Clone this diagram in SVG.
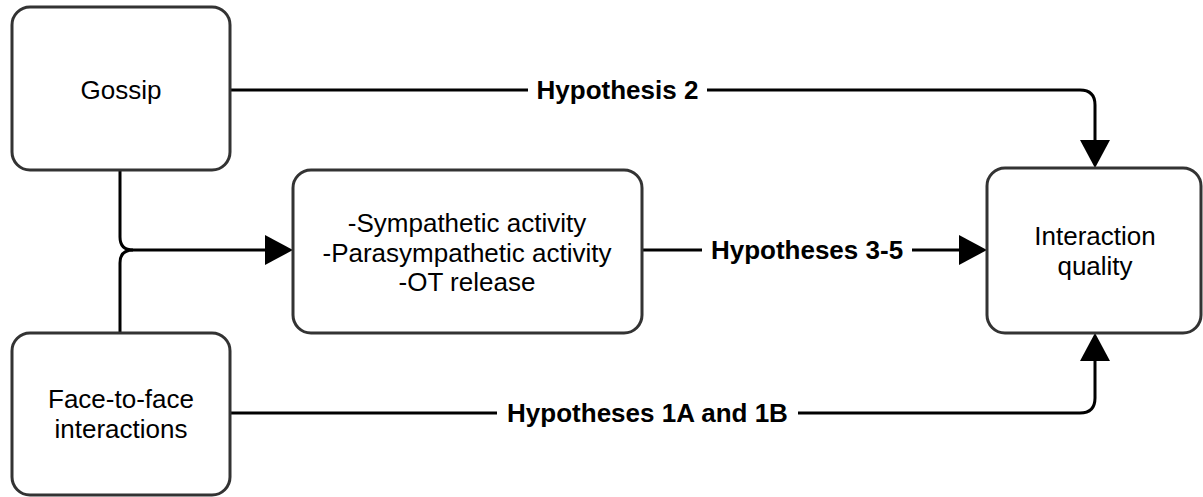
<svg xmlns="http://www.w3.org/2000/svg" width="1203" height="497" viewBox="0 0 1203 497">
<style>
.box{fill:#fff;stroke:#333;stroke-width:3}
.t{font-family:"Liberation Sans",Arial,sans-serif;font-size:26px;fill:#000;text-anchor:middle}
.lb{font-family:"Liberation Sans",Arial,sans-serif;font-size:26px;font-weight:bold;fill:#000;text-anchor:middle}
.c{fill:none;stroke:#000;stroke-width:3}
.bg{fill:#fff}
</style>
<defs>
<marker id="ah" viewBox="0 0 28 30" refX="8" refY="15" markerWidth="28" markerHeight="30" markerUnits="userSpaceOnUse" orient="auto">
<path d="M0,0 L28,15 L0,30 Z" fill="#000"/>
</marker>
</defs>
<g id="connectors">
<path class="c" d="M230,90 L1080,90 Q1095,90 1095,105 L1095,148" marker-end="url(#ah)"/>
<path class="c" d="M120,170 L120,237 Q120,250 133,250"/>
<path class="c" d="M120,333 L120,263 Q120,250 133,250 L273,250" marker-end="url(#ah)"/>
<path class="c" d="M642,250 L967,250" marker-end="url(#ah)"/>
<path class="c" d="M230,413 L1080,413 Q1095,413 1095,398 L1095,353" marker-end="url(#ah)"/>
<rect class="bg" x="528" y="76" width="179" height="30"/>
<text class="lb" x="617.5" y="99">Hypothesis 2</text>
<rect class="bg" x="702" y="236" width="210" height="30"/>
<text class="lb" x="807" y="259">Hypotheses 3-5</text>
<rect class="bg" x="497" y="399" width="301" height="30"/>
<text class="lb" x="647.5" y="422">Hypotheses 1A and 1B</text>
</g>
<g id="gossip">
<rect class="box" x="12" y="7" width="218" height="163" rx="18"/>
<text class="t" x="121" y="99">Gossip</text>
</g>
<g id="face">
<rect class="box" x="12" y="333" width="218" height="162" rx="18"/>
<text class="t" x="121" y="408">Face-to-face</text>
<text class="t" x="121" y="438">interactions</text>
</g>
<g id="physio">
<rect class="box" x="293" y="170" width="349" height="163" rx="18"/>
<text class="t" x="467" y="232">-Sympathetic activity</text>
<text class="t" x="467" y="262">-Parasympathetic activity</text>
<text class="t" x="467" y="291">-OT release</text>
</g>
<g id="quality">
<rect class="box" x="987" y="168" width="214" height="165" rx="18"/>
<text class="t" x="1095" y="245">Interaction</text>
<text class="t" x="1095" y="275">quality</text>
</g>
</svg>
